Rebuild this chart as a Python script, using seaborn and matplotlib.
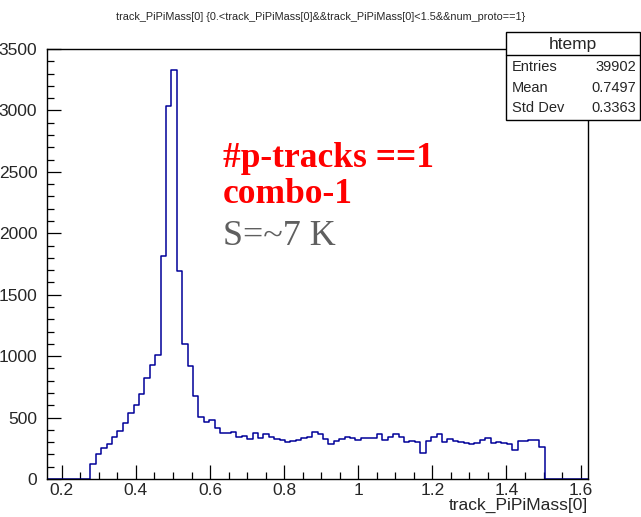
import numpy as np
import pandas as pd
import matplotlib
matplotlib.use("Agg")
import matplotlib.pyplot as plt
from matplotlib.ticker import MultipleLocator, FuncFormatter
from matplotlib.patches import Rectangle
from matplotlib.lines import Line2D
import seaborn as sns

# Histogram binning of track_PiPiMass[0] (ROOT htemp, 100 bins)
bin_lo = 0.16
bin_hi = 1.62
n_bins = 100
first_filled_bin = 8

# Bin contents of the filled bins, starting at first_filled_bin
counts = [
    120, 201, 250, 285, 342, 389, 454, 536, 601, 693,
    826, 924, 1011, 1813, 3037, 3333, 1697, 1099, 916, 678,
    508, 467, 481, 419, 378, 372, 383, 345, 351, 326,
    378, 332, 367, 345, 324, 318, 304, 308, 318, 332,
    345, 381, 364, 324, 283, 312, 324, 340, 337, 318,
    332, 337, 332, 370, 318, 345, 370, 345, 304, 312,
    300, 215, 312, 345, 364, 304, 326, 312, 299, 296,
    283, 296, 318, 332, 296, 299, 291, 285, 237, 312,
    310, 316, 316, 259,
]

stat_names = ["Entries", "Mean", "Std Dev"]
stat_values = ["39902", "0.7497", "0.3363"]

title = "track_PiPiMass[0] {0.<track_PiPiMass[0]&&track_PiPiMass[0]<1.5&&num_proto==1}"
x_label = "track_PiPiMass[0]"
notes_red = ["#p-tracks ==1", "combo-1"]
note_gray = "S=~7 K"

edges = np.linspace(bin_lo, bin_hi, n_bins + 1)
centers = 0.5 * (edges[:-1] + edges[1:])
weights = np.zeros(n_bins)
weights[first_filled_bin:first_filled_bin + len(counts)] = counts
df = pd.DataFrame({"mass": centers, "n": weights})

sns.set_style("white")
plt.rcParams["font.family"] = ["Liberation Sans", "DejaVu Sans"]

W, H = 641, 517
fig = plt.figure(figsize=(W / 100, H / 100), dpi=100)
ax = fig.add_axes([47 / W, 38 / H, 541 / W, 430 / H])

sns.histplot(data=df, x="mass", weights="n", bins=n_bins,
             binrange=(bin_lo, bin_hi), element="step",
             fill=False, color="#000099", linewidth=1.1, ax=ax)

ax.set_xlim(bin_lo, bin_hi)
ax.set_ylim(0, 3500)
ax.set_xlabel("")
ax.set_ylabel("")

for side in ["left", "bottom", "right", "top"]:
    ax.spines[side].set_visible(True)
    ax.spines[side].set_color("black")
    ax.spines[side].set_linewidth(1.0)

ax.xaxis.set_major_locator(MultipleLocator(0.2))
ax.xaxis.set_minor_locator(MultipleLocator(0.05))
ax.yaxis.set_major_locator(MultipleLocator(500))
ax.yaxis.set_minor_locator(MultipleLocator(100))
ax.xaxis.set_major_formatter(FuncFormatter(lambda v, p: f"{v:g}"))
ax.yaxis.set_major_formatter(FuncFormatter(lambda v, p: f"{v:g}"))
ax.tick_params(which="both", direction="in", top=False, right=False,
               bottom=True, left=True, color="black", width=0.9)
ax.tick_params(which="major", length=10, labelsize=12.5)
ax.tick_params(which="minor", length=5)
ax.tick_params(axis="y", which="major", pad=7)
ax.tick_params(axis="x", which="major", pad=3)

fig.text(0.5, 1 - 17 / H, title, ha="center", va="center", fontsize=7.8)
fig.text(588 / W, 1 - 505 / H, x_label, ha="right", va="center", fontsize=12.5)

# statistics box
bx0, bx1, by0, by1, bsep = 506, 640, 32, 120, 55
fig.patches.append(Rectangle((bx0 / W, 1 - by1 / H), (bx1 - bx0) / W,
                             (by1 - by0) / H, transform=fig.transFigure,
                             facecolor="white", edgecolor="black",
                             linewidth=1.0, zorder=5))
fig.lines.append(Line2D([bx0 / W, bx1 / W], [1 - bsep / H, 1 - bsep / H],
                        transform=fig.transFigure, color="black",
                        linewidth=1.0, zorder=6))
fig.text((bx0 + bx1) / 2 / W, 1 - 44 / H, "htemp", ha="center", va="center",
         fontsize=12.5, zorder=7)
for i, (name, val) in enumerate(zip(stat_names, stat_values)):
    yy = 1 - (67 + 20.5 * i) / H
    fig.text(512 / W, yy, name, ha="left", va="center", fontsize=10.5, zorder=7)
    fig.text(636 / W, yy, val, ha="right", va="center", fontsize=10.5, zorder=7)

# annotations
fig.text(223 / W, 1 - 167 / H, notes_red[0], ha="left", va="baseline",
         fontsize=25.5, fontweight="bold", color="#ff0000", family="Liberation Serif")
fig.text(223 / W, 1 - 203 / H, notes_red[1], ha="left", va="baseline",
         fontsize=25.5, fontweight="bold", color="#ff0000", family="Liberation Serif")
fig.text(223 / W, 1 - 245 / H, note_gray, ha="left", va="baseline",
         fontsize=26, color="#5f5f5f", family="Liberation Serif")

fig.savefig("out.png", dpi=100)
